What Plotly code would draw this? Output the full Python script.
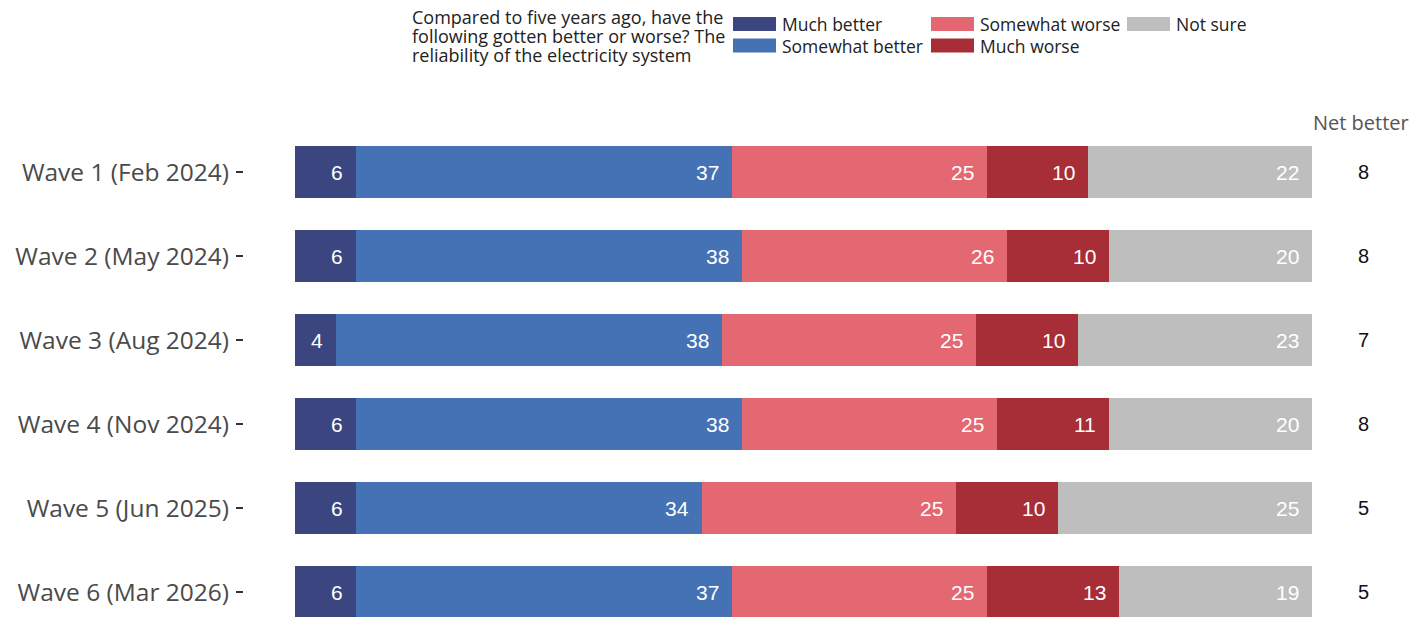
import plotly.graph_objects as go

waves = ["Wave 1 (Feb 2024)", "Wave 2 (May 2024)", "Wave 3 (Aug 2024)",
         "Wave 4 (Nov 2024)", "Wave 5 (Jun 2025)", "Wave 6 (Mar 2026)"]
much_better = [6, 6, 4, 6, 6, 6]
somewhat_better = [37, 38, 38, 38, 34, 37]
somewhat_worse = [25, 26, 25, 25, 25, 25]
much_worse = [10, 10, 10, 11, 10, 13]
not_sure = [22, 20, 23, 20, 25, 19]
net_better = [8, 8, 7, 8, 5, 5]

series_names = ["Much better", "Somewhat better", "Somewhat worse", "Much worse", "Not sure"]
series_values = [much_better, somewhat_better, somewhat_worse, much_worse, not_sure]
series_colors = ["#3b4680", "#4472b4", "#e46872", "#a72d37", "#bebebe"]

legend_title_lines = ["Compared to five years ago, have the",
                      "following gotten better or worse? The",
                      "reliability of the electricity system"]
net_header = "Net better"

# page is offset by 8px body margin
OFF = 8
FW, FH = 1417 - OFF, 617 - OFF
ML, MR, MT, MB = 244 - OFF, 54, 130 - OFF, 0
PW, PH = FW - ML - MR, FH - MT - MB


def px_x(page_x):
    return (page_x - OFF - ML) / PW


def px_y(page_y):
    return (FH - MB - (page_y - OFF)) / PH


LBL_FONT = "Open Sans"
NUM_FONT = "Liberation Sans, Arial"

fig = go.Figure()
for name, vals, color in zip(series_names, series_values, series_colors):
    fig.add_trace(go.Bar(
        y=waves, x=vals, name=name, orientation="h",
        marker=dict(color=color, line=dict(width=0)),
        width=0.62, hoverinfo="skip", showlegend=False,
    ))

# value labels at the right end of each segment
annotations = []
cum = [0] * len(waves)
for vals in series_values:
    for i, (w, v) in enumerate(zip(waves, vals)):
        cum[i] += v
        annotations.append(dict(x=cum[i], y=w, xref="x", yref="y", text=str(v),
                                showarrow=False, xanchor="right", xshift=-11,
                                font=dict(family=NUM_FONT, size=21, color="white")))

for w, nb in zip(waves, net_better):
    annotations.append(dict(x=1.0, xref="paper", y=w, yref="y", text=str(nb),
                            showarrow=False, xanchor="center",
                            font=dict(family=NUM_FONT, size=20, color="#111111")))
annotations.append(dict(x=px_x(1361), xref="paper", y=px_y(123), yref="paper",
                        text=net_header, showarrow=False, xanchor="center", yanchor="middle",
                        font=dict(family=LBL_FONT, size=20, color="#555555")))

# manual legend
for line, cy in zip(legend_title_lines, [16.5, 36, 55.5]):
    annotations.append(dict(x=px_x(410), xref="paper", y=px_y(cy), yref="paper",
                            text=line, showarrow=False, xanchor="left", yanchor="middle",
                            font=dict(family=LBL_FONT, size=18, color="#222222")))

legend_slots = [(733, 24), (733, 45.5), (931, 24), (931, 45.5), (1127, 24)]
shapes = []
for name, color, (sx, sy) in zip(series_names, series_colors, legend_slots):
    shapes.append(dict(type="rect", xref="paper", yref="paper",
                       x0=px_x(sx), x1=px_x(sx + 43), y0=px_y(sy + 7), y1=px_y(sy - 7),
                       fillcolor=color, line=dict(width=0)))
    annotations.append(dict(x=px_x(sx + 47), xref="paper", y=px_y(sy), yref="paper",
                            text=name, showarrow=False, xanchor="left", yanchor="middle",
                            font=dict(family=LBL_FONT, size=17.5, color="#222222")))

fig.update_layout(
    width=FW, height=FH, barmode="stack",
    margin=dict(l=ML, r=MR, t=MT, b=MB, pad=0, autoexpand=False),
    plot_bgcolor="white", paper_bgcolor="white",
    xaxis=dict(range=[-5, 105], visible=False, fixedrange=True, automargin=False),
    yaxis=dict(categoryorder="array", categoryarray=waves,
               range=[5 + (617 - 592) / 84, -0.5], automargin=False,
               ticks="outside", ticklen=7, tickwidth=2, tickcolor="#333333",
               tickfont=dict(family=LBL_FONT, size=24.5, color="#4a4a4a"),
               showline=False, showgrid=False, ticklabelstandoff=2),
    showlegend=False,
    annotations=annotations, shapes=shapes,
)

fig.write_html("out.html")
